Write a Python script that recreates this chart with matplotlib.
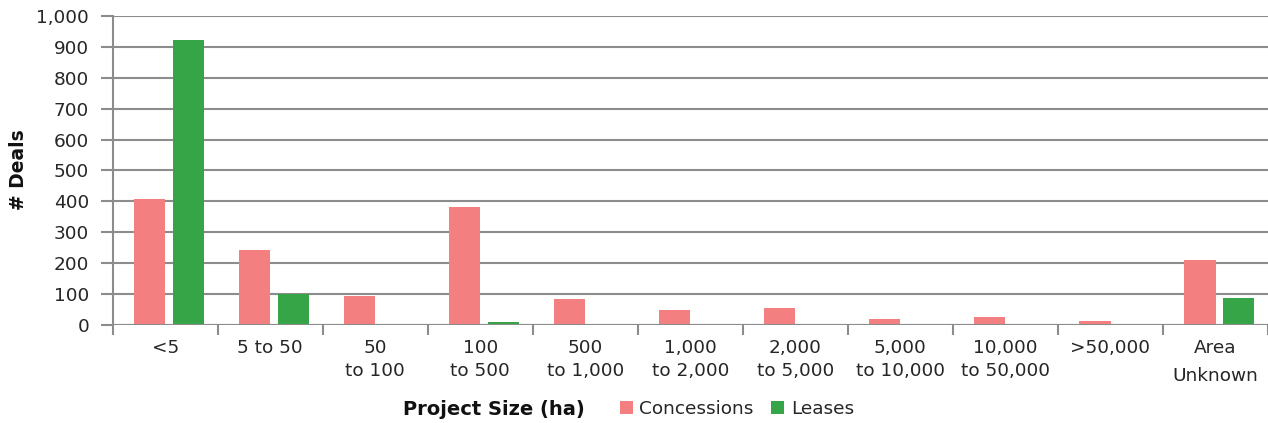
import numpy as np
import matplotlib.pyplot as plt
from matplotlib.ticker import FuncFormatter, MultipleLocator

categories = ['<5', '5 to 50', '50\nto 100', '100\nto 500', '500\nto 1,000',
              '1,000\nto 2,000', '2,000\nto 5,000', '5,000\nto 10,000',
              '10,000\nto 50,000', '>50,000', 'Area\nUnknown']
concessions = [408, 243, 95, 382, 85, 48, 53, 20, 24, 11, 211]
leases = [923, 99, 3, 8, 0, 0, 0, 0, 0, 0, 86]

conc_color = '#F47F80'
lease_color = '#36A547'
grid_color = '#8C8C8C'
text_color = '#262626'

plt.rcParams['font.family'] = ['DejaVu Sans']
fs = 13.3

fig = plt.figure(figsize=(12.68, 4.23), dpi=100)
ax = fig.add_axes([0.0889, 0.232, 0.9111, 0.730])

x = np.arange(len(categories))
w = 0.297
ax.bar(x - 0.148, concessions, width=w, color=conc_color, label='Concessions', zorder=3)
ax.bar(x + 0.218, leases, width=w, color=lease_color, label='Leases', zorder=3)

ax.set_xlim(-0.5, len(categories) - 0.5)
ax.set_ylim(0, 1000)
ax.yaxis.set_major_locator(MultipleLocator(100))
ax.yaxis.set_major_formatter(FuncFormatter(lambda v, p: f'{int(v):,}'))
ax.grid(axis='y', color=grid_color, linewidth=1.5, zorder=0)

# category labels centred, tick marks on the boundaries
ax.set_xticks(x)
ax.set_xticklabels(categories, fontsize=fs, color=text_color, linespacing=1.4)
ax.get_xticklabels()[-1].set_linespacing(1.75)
ax.set_xticks(np.arange(-0.5, len(categories) + 0.5, 1), minor=True)
ax.tick_params(axis='x', which='major', length=0, pad=10)
ax.tick_params(axis='x', which='minor', length=7, width=1.5, color=grid_color, direction='out')
ax.tick_params(axis='y', length=9, width=1.5, color=grid_color, labelsize=fs,
               labelcolor=text_color, pad=8)

for s in ['top', 'right', 'bottom']:
    ax.spines[s].set_visible(False)
ax.spines['left'].set_color(grid_color)
ax.spines['left'].set_linewidth(1.5)
ax.axhline(0, color=grid_color, linewidth=1.5, zorder=4)

fig.text(18 / 1268, 1 - 170 / 423, '# Deals', rotation=90, fontsize=13.5, fontweight='bold',
         ha='center', va='center', color='#111111')
fig.text(494 / 1268, 1 - 409 / 423, 'Project Size (ha)', fontsize=14, fontweight='bold',
         ha='center', va='center', color='#111111')
leg = fig.legend(loc='center left', bbox_to_anchor=(620 / 1268, 1 - 409 / 423), ncol=2,
                 frameon=False, fontsize=fs, handlelength=0.7, handleheight=0.75,
                 handletextpad=0.35, columnspacing=0.95, borderpad=0, borderaxespad=0)
for t in leg.get_texts():
    t.set_color(text_color)

fig.savefig('out.png', dpi=100)
